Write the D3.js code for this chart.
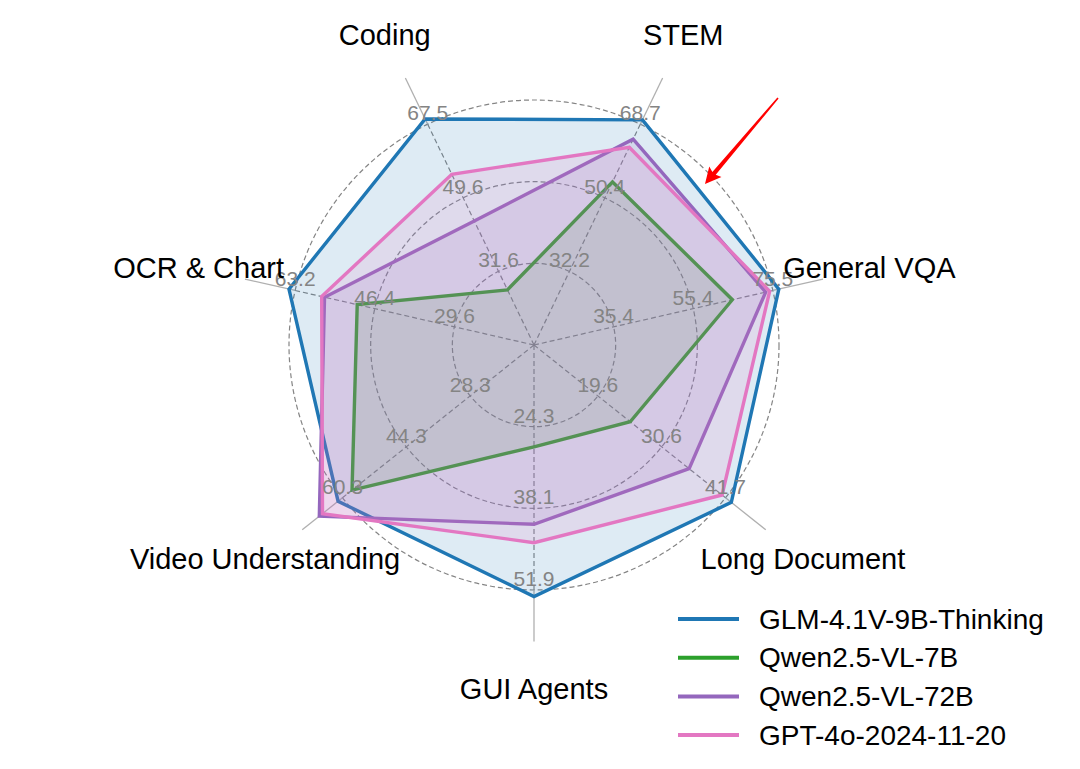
<!DOCTYPE html>
<html>
<head>
<meta charset="utf-8">
<script src="https://cdn.jsdelivr.net/npm/d3@7"></script>
<style>
  body { margin: 0; background: #fff; }
  svg { display: block; font-family: "Liberation Sans", Arial, Helvetica, sans-serif; }
</style>
</head>
<body>
<div id="chart"></div>
<script>
// axes, clockwise from the top
const categories = ["STEM", "General VQA", "Long Document", "GUI Agents", "Video Understanding", "OCR & Chart", "Coding"];

// tick labels at the three grid circles, per axis
const axisTicks = [
    [32.2, 50.4, 68.7],
    [35.4, 55.4, 75.5],
    [19.6, 30.6, 41.7],
    [24.3, 38.1, 51.9],
    [28.3, 44.3, 60.3],
    [29.6, 46.4, 63.2],
    [31.6, 49.6, 67.5]
];

const models = ["GLM-4.1V-9B-Thinking", "Qwen2.5-VL-7B", "Qwen2.5-VL-72B", "GPT-4o-2024-11-20"];
const glmValues = [69.8, 77.0, 42.7, 53.0, 61.4, 64.5, 68.8];
const qwen7bValues = [54.4, 65.3, 25.2, 27.7, 57.9, 50.1, 27.1];
const qwen72bValues = [65.0, 73.7, 35.4, 40.8, 66.1, 57.0, 43.9];
const gpt4oValues = [63.0, 74.7, 41.1, 43.9, 65.3, 57.6, 55.3];
const seriesValues = [glmValues, qwen7bValues, qwen72bValues, gpt4oValues];
const colors = ["#1f77b4", "#2ca02c", "#9467bd", "#e377c2"];

const width = 1080, height = 769;
const cx = 534, cy = 345;
const R = 245;

const svg = d3.select("#chart")
    .append("svg")
    .attr("width", width)
    .attr("height", height);

const g = svg.append("g")
    .attr("transform", `translate(${cx},${cy})`);

// angle of each axis, measured clockwise from the top
const angle = d3.scalePoint()
    .domain(d3.range(categories.length + 1))
    .range([0, 2 * Math.PI]);
const axisAngle = i => angle(i) + Math.PI / categories.length;

// one radial scale per axis: first tick on the inner circle, last on the outer
const rScales = axisTicks.map(t => d3.scaleLinear()
    .domain([t[0], t[2]])
    .range([R / 3, R]));

const point = (i, r) => [r * Math.sin(axisAngle(i)), -r * Math.cos(axisAngle(i))];

// grid circles
g.selectAll(".grid-circle")
    .data([R / 3, 2 * R / 3, R])
    .join("circle")
    .attr("class", "grid-circle")
    .attr("r", d => d)
    .attr("fill", "none")
    .attr("stroke", "#858585")
    .attr("stroke-width", 1.2)
    .attr("stroke-dasharray", "5,3");

// spokes: dashed inside, solid beyond the outer circle
g.selectAll(".spoke-in")
    .data(categories)
    .join("line")
    .attr("class", "spoke-in")
    .attr("x1", 0).attr("y1", 0)
    .attr("x2", (d, i) => point(i, R)[0])
    .attr("y2", (d, i) => point(i, R)[1])
    .attr("stroke", "#858585")
    .attr("stroke-width", 1.2)
    .attr("stroke-dasharray", "5,3");

g.selectAll(".spoke-out")
    .data(categories)
    .join("line")
    .attr("class", "spoke-out")
    .attr("x1", (d, i) => point(i, R)[0])
    .attr("y1", (d, i) => point(i, R)[1])
    .attr("x2", (d, i) => point(i, R * 1.21)[0])
    .attr("y2", (d, i) => point(i, R * 1.21)[1])
    .attr("stroke", "#b0b0b0")
    .attr("stroke-width", 1.3);

// series polygons
const line = d3.line().curve(d3.curveLinearClosed);

seriesValues.forEach((vals, s) => {
    const pts = vals.map((v, i) => point(i, rScales[i](v)));
    g.append("path")
        .datum(pts)
        .attr("d", line)
        .attr("fill", colors[s])
        .attr("fill-opacity", 0.15)
        .attr("stroke", colors[s])
        .attr("stroke-width", 3.4)
        .attr("stroke-linejoin", "miter");
});

// tick labels along each axis
axisTicks.forEach((ticks, i) => {
    g.selectAll(null)
        .data(ticks)
        .join("text")
        .attr("x", d => point(i, rScales[i](d))[0])
        .attr("y", d => point(i, rScales[i](d))[1] - 4)
        .attr("text-anchor", "middle")
        .attr("fill", "#848484")
        .style("font-size", "21px")
        .text(d => d.toFixed(1));
});

// category labels
g.selectAll(".cat-label")
    .data(categories)
    .join("text")
    .attr("class", "cat-label")
    .attr("x", (d, i) => point(i, 344)[0])
    .attr("y", (d, i) => point(i, 344)[1])
    .attr("text-anchor", "middle")
    .attr("dominant-baseline", "central")
    .attr("fill", "#000")
    .style("font-size", "29px")
    .text(d => d);

// red annotation arrow
const tail = [778, 98], tip = [705, 184];
const arrowLen = Math.hypot(tip[0] - tail[0], tip[1] - tail[1]);
const arrowRot = Math.atan2(tip[1] - tail[1], tip[0] - tail[0]) * 180 / Math.PI;
const headLen = 16, headHalf = 8, shaftEnd = 2.2, shaftStart = 0.8;
svg.append("path")
    .attr("transform", `translate(${tail[0]},${tail[1]}) rotate(${arrowRot})`)
    .attr("d", `M0,${-shaftStart} L${arrowLen - headLen + 2},${-shaftEnd}
                L${arrowLen - headLen},${-headHalf} L${arrowLen},0
                L${arrowLen - headLen},${headHalf} L${arrowLen - headLen + 2},${shaftEnd}
                L0,${shaftStart} Z`)
    .attr("fill", "#ff0000");

// legend
const legend = svg.append("g")
    .attr("transform", "translate(678,619)");

const rows = legend.selectAll(".row")
    .data(models)
    .join("g")
    .attr("class", "row")
    .attr("transform", (d, i) => `translate(0,${i * 38.7})`);

rows.append("line")
    .attr("x1", 0).attr("x2", 61)
    .attr("y1", 0).attr("y2", 0)
    .attr("stroke", (d, i) => colors[i])
    .attr("stroke-width", 4);

rows.append("text")
    .attr("x", 81)
    .attr("y", 0)
    .attr("dominant-baseline", "central")
    .attr("fill", "#000")
    .style("font-size", "28px")
    .text(d => d);
</script>
</body>
</html>
